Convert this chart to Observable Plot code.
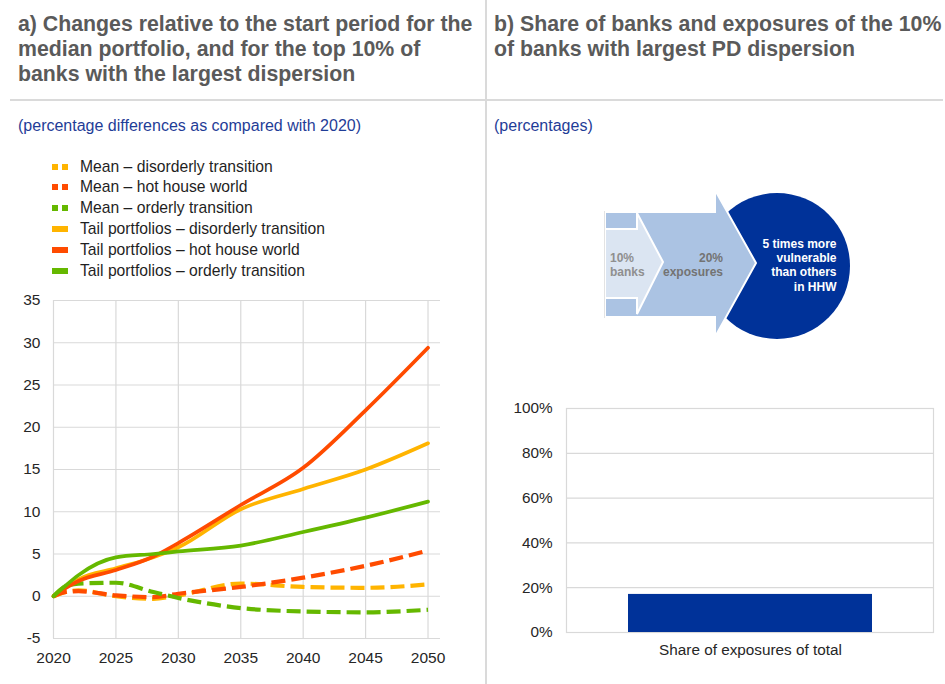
<!DOCTYPE html>
<html>
<head>
<meta charset="utf-8">
<script src="https://cdn.jsdelivr.net/npm/d3@7"></script>
<script src="https://cdn.jsdelivr.net/npm/@observablehq/plot@0.6"></script>
<style>
  html, body { margin: 0; padding: 0; background: #fff; }
  #root { position: relative; width: 945px; height: 684px; overflow: hidden; font-family: "Liberation Sans", Arial, sans-serif; }
  .abs { position: absolute; }
  .title { font-size: 21.3px; font-weight: bold; color: #5a5a5a; line-height: 25px; white-space: nowrap; }
  .sub { font-size: 16px; color: #1f3d97; line-height: 20px; white-space: nowrap; }
  .leg { position: absolute; left: 52px; height: 21px; display: flex; align-items: center; font-size: 15.7px; color: #1f1f1f; white-space: nowrap; }
  .sw { width: 16px; height: 6px; margin-right: 12px; position: relative; }
  .sw span { position: absolute; top: 0; width: 6px; height: 6px; }
</style>
</head>
<body>
<div id="root"></div>
<script>
// ---------- data ----------
const years = [2020, 2021, 2022, 2025, 2028, 2030, 2035, 2040, 2045, 2050];
const meanDisorderly = [0, 0.5, 0.7, 0.0, -0.3, 0.1, 1.5, 1.1, 1.0, 1.4];
const meanHotHouse   = [0, 0.5, 0.6, 0.1, -0.1, 0.3, 1.1, 2.2, 3.6, 5.4];
const meanOrderly    = [0, 1.2, 1.5, 1.6, 0.5, -0.2, -1.4, -1.8, -1.9, -1.6];
const tailDisorderly = [0, 1.1, 2.0, 3.3, 4.6, 5.8, 10.3, 12.7, 15.0, 18.1];
const tailHotHouse   = [0, 1.0, 1.8, 3.1, 4.7, 6.3, 10.8, 15.2, 22.0, 29.4];
const tailOrderly    = [0, 1.3, 2.5, 4.6, 5.0, 5.3, 6.0, 7.6, 9.3, 11.2];

const seriesNames = [
  "Mean – disorderly transition",
  "Mean – hot house world",
  "Mean – orderly transition",
  "Tail portfolios – disorderly transition",
  "Tail portfolios – hot house world",
  "Tail portfolios – orderly transition"
];
const seriesValues = [meanDisorderly, meanHotHouse, meanOrderly, tailDisorderly, tailHotHouse, tailOrderly];
const seriesColors = ["#ffb400", "#ff4b00", "#65b800", "#ffb400", "#ff4b00", "#65b800"];
const seriesDashed = [true, true, true, false, false, false];

const yTicksA = [-5, 0, 5, 10, 15, 20, 25, 30, 35];
const xTicksA = [2020, 2025, 2030, 2035, 2040, 2045, 2050];

const barCategories = ["Share of exposures of total"];
const barValues = [17];
const yTicksB = [0, 20, 40, 60, 80, 100];

const infoBanks = ["10%", "banks"];
const infoExposures = ["20%", "exposures"];
const infoCircle = ["5 times more", "vulnerable", "than others", "in HHW"];

// ---------- layout ----------
const root = document.getElementById("root");
function addDiv(cls, left, top, html) {
  const d = document.createElement("div");
  d.className = "abs " + cls;
  d.style.left = left + "px";
  d.style.top = top + "px";
  d.innerHTML = html;
  root.appendChild(d);
  return d;
}

// separators
const sepV = document.createElement("div");
sepV.className = "abs";
Object.assign(sepV.style, {left: "485px", top: "0px", width: "2px", height: "684px", background: "#dadada"});
root.appendChild(sepV);
const sepH = document.createElement("div");
sepH.className = "abs";
Object.assign(sepH.style, {left: "10px", top: "99px", width: "933px", height: "2px", background: "#dadada"});
root.appendChild(sepH);

addDiv("title", 18, 12, "a) Changes relative to the start period for the<br>median portfolio, and for the top 10% of<br>banks with the largest dispersion");
addDiv("title", 494, 12, "b) Share of banks and exposures of the 10%<br>of banks with largest PD dispersion");
addDiv("sub", 18, 116, "(percentage differences as compared with 2020)");
addDiv("sub", 494, 116, "(percentages)");

// legend
seriesNames.forEach((name, i) => {
  const row = document.createElement("div");
  row.className = "leg";
  row.style.top = (156 + i * 20.9) + "px";
  const sw = document.createElement("div");
  sw.className = "sw";
  if (seriesDashed[i]) {
    sw.innerHTML = `<span style="left:0;background:${seriesColors[i]}"></span><span style="left:10px;background:${seriesColors[i]}"></span>`;
  } else {
    sw.style.background = seriesColors[i];
  }
  row.appendChild(sw);
  const t = document.createElement("span");
  t.textContent = name;
  row.appendChild(t);
  root.appendChild(row);
});

// ---------- chart a ----------
const rows = [];
seriesNames.forEach((name, i) => {
  years.forEach((yr, j) => rows.push({series: name, year: yr, value: seriesValues[i][j]}));
});

const lineMarks = seriesNames.map((name, i) =>
  Plot.line(rows.filter(r => r.series === name), {
    x: "year", y: "value",
    stroke: seriesColors[i],
    strokeWidth: seriesDashed[i] ? 4.2 : 3.7,
    strokeDasharray: seriesDashed[i] ? "14,6" : null,
    strokeLinecap: seriesDashed[i] ? "butt" : "round",
    curve: "monotone-x"
  })
);

const chartA = Plot.plot({
  width: 460, height: 394,
  marginLeft: 53, marginRight: 20, marginTop: 10, marginBottom: 46,
  style: {fontFamily: "'Liberation Sans', Arial, sans-serif", fontSize: "15.5px", color: "#262626", background: "transparent", overflow: "visible"},
  x: {domain: [2020, 2051]},
  y: {domain: [-5, 35]},
  marks: [
    Plot.gridY(yTicksA, {stroke: "#d9d9d9", strokeOpacity: 1, strokeWidth: 1.2}),
    Plot.gridX(xTicksA, {stroke: "#d9d9d9", strokeOpacity: 1, strokeWidth: 1.2}),
    Plot.axisY(yTicksA, {tickSize: 0, tickPadding: 13, label: null, tickFormat: d => String(d), fontSize: 15.5}),
    Plot.axisX(xTicksA, {tickSize: 0, tickPadding: 13, label: null, tickFormat: d => String(d), fontSize: 15.5}),
    ...lineMarks
  ]
});
chartA.style.position = "absolute";
chartA.style.left = "0px";
chartA.style.top = "290px";
root.appendChild(chartA);

// ---------- infographic ----------
const info = d3.create("svg").attr("width", 300).attr("height", 175)
  .style("position", "absolute").style("left", "590px").style("top", "180px");
const gInfo = info.append("g");
gInfo.append("circle").attr("cx", 187).attr("cy", 86).attr("r", 73).attr("fill", "#003299");
gInfo.append("polygon")
  .attr("points", "15,32 125,32 125,10 166,83 125,157 125,137 15,137")
  .attr("fill", "#abc3e3").attr("stroke", "#ffffff").attr("stroke-width", 2).attr("stroke-linejoin", "miter");
gInfo.append("polygon")
  .attr("points", "15,49 47,49 47,33 73,82 47,134 47,118 15,118")
  .attr("fill", "#dbe5f2").attr("stroke", "#ffffff").attr("stroke-width", 2);
gInfo.append("rect").attr("x", 14).attr("y", 31).attr("width", 1).attr("height", 107).attr("fill", "#e3e3e3");
const tf = "'Liberation Sans', Arial, sans-serif";
infoBanks.forEach((s, i) => gInfo.append("text").attr("x", 20).attr("y", 82 + i * 14)
  .attr("font-family", tf).attr("font-size", 12).attr("font-weight", "bold").attr("fill", "#8f8f8f").text(s));
infoExposures.forEach((s, i) => gInfo.append("text").attr("x", 133).attr("y", 82 + i * 14).attr("text-anchor", "end")
  .attr("font-family", tf).attr("font-size", 12).attr("font-weight", "bold").attr("fill", "#737373").text(s));
infoCircle.forEach((s, i) => gInfo.append("text").attr("x", 246.5).attr("y", 67.5 + i * 14.4).attr("text-anchor", "end")
  .attr("font-family", tf).attr("font-size", 12).attr("font-weight", "bold").attr("fill", "#ffffff").text(s));
root.appendChild(info.node());

// ---------- chart b ----------
const barRows = barCategories.map((c, i) => ({category: c, value: barValues[i]}));
const chartB = Plot.plot({
  width: 459, height: 289,
  marginLeft: 80, marginRight: 12, marginTop: 13, marginBottom: 52,
  style: {fontFamily: "'Liberation Sans', Arial, sans-serif", fontSize: "15.3px", color: "#262626", background: "transparent", overflow: "visible"},
  x: {type: "band", domain: barCategories, padding: 0.2},
  y: {domain: [0, 100]},
  marks: [
    Plot.gridY(yTicksB, {stroke: "#d9d9d9", strokeOpacity: 1, strokeWidth: 1.2}),
    Plot.frame({stroke: "#d9d9d9", strokeWidth: 1.2}),
    Plot.barY(barRows, {x: "category", y: "value", fill: "#003299"}),
    Plot.axisY(yTicksB, {tickSize: 0, tickPadding: 14, label: null, tickFormat: d => d + "%", fontSize: 15.3}),
    Plot.axisX({tickSize: 0, tickPadding: 12, label: null, fontSize: 15.3})
  ]
});
chartB.style.position = "absolute";
chartB.style.left = "486px";
chartB.style.top = "395px";
root.appendChild(chartB);
</script>
</body>
</html>
